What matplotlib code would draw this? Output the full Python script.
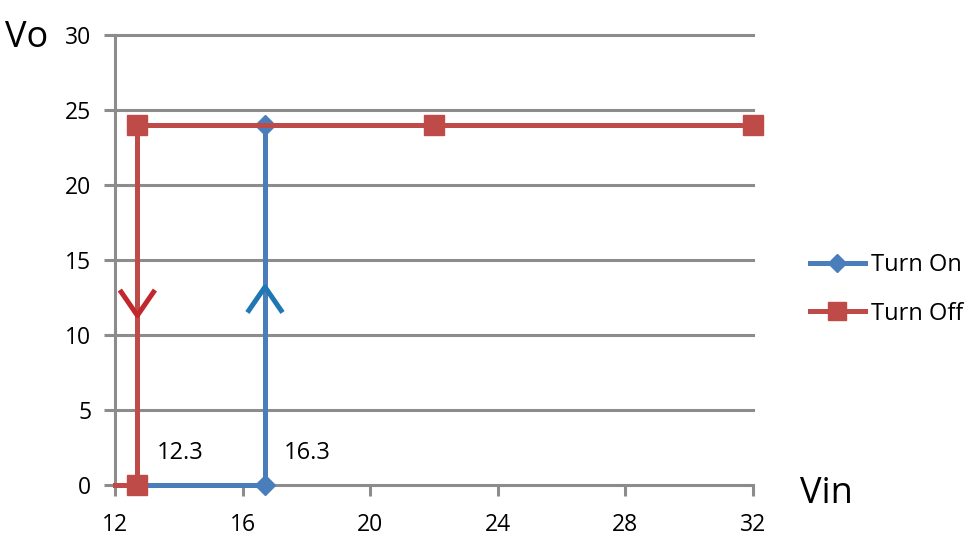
import matplotlib.pyplot as plt
import numpy as np

plt.rcParams['font.family'] = ['Open Sans', 'DejaVu Sans']

# data
on_x = [12.7, 16.7, 16.7]
on_y = [0, 0, 24]
off_x = [12.0, 12.7, 12.7, 22, 32]
off_y = [0, 0, 24, 24, 24]

# direction chevrons (x, y)
on_arrow_x = [16.15, 16.7, 17.25]
on_arrow_y = [11.5, 13.2, 11.5]
off_arrow_x = [12.15, 12.7, 13.25]
off_arrow_y = [13.0, 11.3, 13.0]

xticks = [12, 16, 20, 24, 28, 32]
yticks = [0, 5, 10, 15, 20, 25, 30]

blue = '#4A7EBB'
red = '#BE4B48'
grid = '#8C8C8C'

fig = plt.figure(figsize=(9.7, 5.48), dpi=100)
ax = fig.add_axes([0.1186, 0.115, 0.6577, 0.8211])

for y in yticks[1:]:
    ax.plot([12, 32], [y, y], color=grid, lw=2.2, zorder=1, clip_on=False)

l_on, = ax.plot(on_x, on_y, color=blue, lw=3.6, marker='D', ms=10,
                markevery=[1, 2], zorder=3, clip_on=False, label='Turn On')
l_off, = ax.plot(off_x, off_y, color=red, lw=3.6, marker='s', ms=14,
                 markevery=[1, 2, 3, 4], zorder=4, clip_on=False, label='Turn Off')
ax.plot(on_arrow_x, on_arrow_y, color='#1F77B4', lw=3.6, solid_capstyle='butt', zorder=3)
ax.plot(off_arrow_x, off_arrow_y, color='#C0282E', lw=3.6, solid_capstyle='butt', zorder=4)

ax.text(13.3, 2.1, '12.3', fontsize=17, ha='left', va='center')
ax.text(17.3, 2.1, '16.3', fontsize=17, ha='left', va='center')

ax.set_xlim(12, 32)
ax.set_ylim(0, 30)
ax.set_xticks(xticks)
ax.set_yticks(yticks)
ax.tick_params(axis='both', labelsize=16.5, color=grid, width=2.2, length=8)
ax.tick_params(axis='x', pad=12)
ax.tick_params(axis='y', pad=9)
for s in ['top', 'right']:
    ax.spines[s].set_visible(False)
for s in ['left', 'bottom']:
    ax.spines[s].set_color(grid)
    ax.spines[s].set_linewidth(2.2)
    ax.spines[s].set_zorder(0.5)

fig.text(0.005, 0.93, 'Vo', fontsize=26, ha='left', va='center')
fig.text(0.825, 0.098, 'Vin', fontsize=26, ha='left', va='center')

fig.legend(handles=[l_on, l_off], loc='center left', bbox_to_anchor=(0.813, 0.472),
           frameon=False, fontsize=17, handlelength=2.33, handletextpad=0.25,
           labelspacing=1.05, markerscale=0.9)

plt.savefig('out.png')
